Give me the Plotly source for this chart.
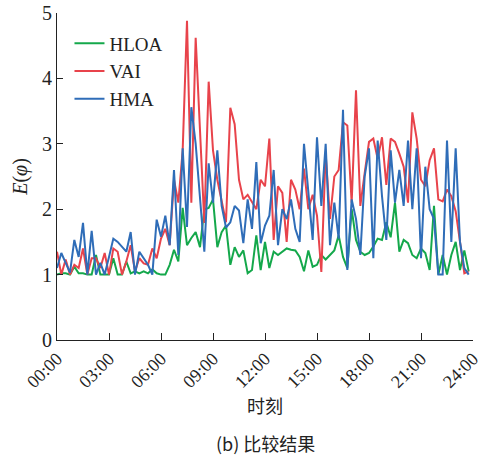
import plotly.graph_objects as go

hours = [i * 0.25 for i in range(96)]

hloa = [1.0, 1.02, 1.02, 1.0, 1.12, 1.02, 1.02, 1.0, 1.0, 1.3,
        1.0, 1.0, 1.0, 1.25, 1.0, 1.0, 1.2, 1.02, 1.05, 1.02,
        1.05, 1.02, 1.08, 1.02, 1.0, 1.0, 1.15, 1.38, 1.2, 2.02,
        1.45, 1.56, 1.65, 1.42, 2.0, 2.02, 2.15, 1.42, 1.65, 1.75,
        1.15, 1.42, 1.27, 1.37, 1.02, 1.07, 1.6, 1.07, 1.5, 1.1,
        1.35, 1.3, 1.35, 1.4, 1.38, 1.37, 1.27, 1.05, 1.37, 1.12,
        1.15, 1.3, 1.23, 1.3, 1.37, 1.6, 1.27, 1.1, 2.0, 1.53,
        1.35, 1.3, 1.33, 1.43, 1.55, 1.53, 1.8, 1.57, 2.1, 1.35,
        1.53, 1.48, 1.3, 1.25, 1.4, 1.33, 1.07, 2.05, 1.0, 1.3,
        1.0, 1.3, 1.5, 1.07, 1.37, 1.05]

vai = [1.35, 1.0, 1.23, 1.0, 1.15, 1.1, 1.4, 1.0, 1.25, 1.25,
       1.1, 1.33, 1.0, 1.4, 1.35, 1.0, 1.2, 1.45, 1.05, 1.25,
       1.17, 1.15, 1.4, 1.25, 1.55, 1.7, 1.45, 2.45, 2.1, 2.9,
       4.88, 2.1, 4.62, 3.3, 1.79, 3.95, 2.9, 2.45, 2.1, 1.8,
       3.55, 3.3, 2.45, 2.15, 2.22, 2.12, 2.0, 2.45, 2.35, 3.08,
       1.53, 2.35, 2.25, 1.5, 2.45, 2.3, 2.0, 2.62, 2.0, 2.22,
       1.9, 1.04, 2.85, 1.85, 2.5, 2.6, 3.33, 3.28, 2.1, 3.82,
       2.05, 2.55, 3.03, 3.08, 2.77, 3.1, 2.37, 3.08, 3.03, 2.85,
       2.65, 2.1, 3.48, 3.08, 2.45, 2.35, 2.75, 2.93, 2.15, 2.12,
       2.3, 2.2, 1.97, 1.5, 1.02, 1.05]

hma = [1.1, 1.33, 1.18, 1.03, 1.53, 1.27, 1.79, 1.0, 1.67, 1.0,
       1.18, 1.0, 1.27, 1.55, 1.5, 1.42, 1.35, 1.65, 1.0, 1.35,
       1.25, 1.15, 1.0, 1.84, 1.58, 1.9, 1.45, 2.6, 1.3, 2.93,
       1.73, 3.56, 3.0, 2.2, 1.35, 2.7, 2.1, 2.9, 2.05, 1.72,
       1.8, 2.05, 1.98, 1.48, 2.15, 1.7, 2.72, 1.48, 1.75, 1.9,
       2.6, 1.45, 2.0, 1.85, 2.15, 1.7, 1.5, 3.0, 2.2, 1.53,
       3.1, 2.05, 3.0, 1.45, 2.1, 1.55, 3.52, 1.07, 2.15, 1.85,
       1.3, 2.5, 2.93, 1.25, 3.05, 2.2, 1.53, 2.9, 2.1, 2.6,
       2.05, 3.05, 2.0, 2.93, 1.25, 2.65, 2.0, 1.85, 1.0, 1.0,
       3.05, 1.5, 2.93, 1.5, 1.1, 1.0]

tick_vals = [0, 3, 6, 9, 12, 15, 18, 21, 24]
tick_text = ["00:00", "03:00", "06:00", "09:00", "12:00",
             "15:00", "18:00", "21:00", "24:00"]

series = [("HLOA", hloa, "#14a84b"), ("VAI", vai, "#e8434b"), ("HMA", hma, "#2f6db8")]

fig = go.Figure()
for name, vals, color in series:
    fig.add_trace(go.Scatter(x=hours, y=vals, mode="lines", name=name,
                             line=dict(color=color, width=2)))

serif = "Liberation Serif, Times New Roman, serif"
fig.update_layout(
    width=483, height=459,
    margin=dict(l=57, r=10, t=13, b=119),
    paper_bgcolor="white", plot_bgcolor="white",
    font=dict(family=serif, size=18, color="#222"),
    showlegend=True,
    legend=dict(x=0.03, y=0.965, xanchor="left", yanchor="top",
                bgcolor="rgba(0,0,0,0)", font=dict(family=serif, size=19),
                itemwidth=30, tracegroupgap=0),
    xaxis=dict(range=[0, 24], tickvals=tick_vals, ticktext=tick_text,
               tickangle=-45, ticks="inside", ticklen=7, tickcolor="#222",
               showline=True, linecolor="#222", linewidth=1.2,
               showgrid=False, zeroline=False, automargin=False,
               tickfont=dict(family=serif, size=18),
               title=dict(text="时刻", font=dict(family="Noto Sans CJK SC", size=18),
                          standoff=4)),
    yaxis=dict(range=[0, 5], tickvals=[0, 1, 2, 3, 4, 5],
               ticks="inside", ticklen=6, tickcolor="#222",
               showline=True, linecolor="#222", linewidth=1.2,
               showgrid=False, zeroline=False, automargin=False,
               tickfont=dict(family=serif, size=20),
               title=dict(text="<i>E</i>(<i>φ</i>)", font=dict(family=serif, size=20),
                          standoff=8)),
    annotations=[dict(text="(b) 比较结果", x=0.5, y=0, xref="paper", yref="paper",
                      xanchor="center", yanchor="top", yshift=-88, showarrow=False,
                      font=dict(family="Noto Sans CJK SC", size=18, color="#222"))],
)

fig.write_html("out.html", config={"displayModeBar": False},
               post_script="document.body.style.margin='0';document.body.style.overflow='hidden';")
